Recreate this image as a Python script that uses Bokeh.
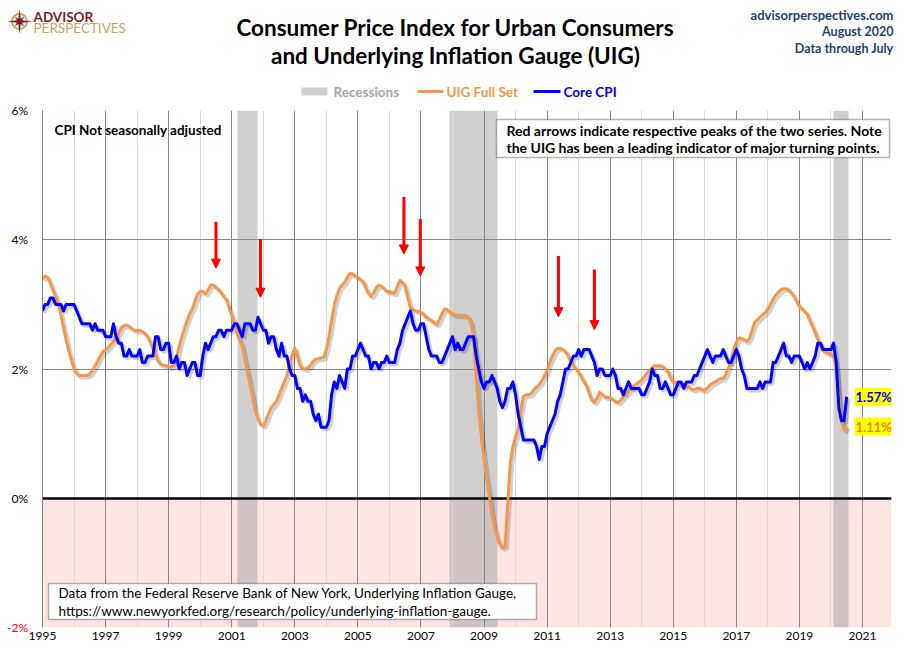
import numpy as np
from bokeh.plotting import figure
from bokeh.layouts import column, row
from bokeh.models import (Range1d, FixedTicker, Label, BoxAnnotation, Arrow, NormalHead)
from bokeh.embed import file_html
from bokeh.resources import INLINE

# ---------------- data ----------------
start_year = 1995  # monthly data, Jan 1995 .. Jul 2020
uig_full_set = [
    3.39, 3.44, 3.42, 3.32, 3.22, 3.12, 3.02, 2.84, 2.64, 2.45, 2.28, 2.13,   # 1995
    2.00, 1.93, 1.90, 1.90, 1.90, 1.90, 1.92, 1.98, 2.05, 2.12, 2.20, 2.27,   # 1996
    2.30, 2.33, 2.38, 2.42, 2.48, 2.55, 2.64, 2.67, 2.68, 2.66, 2.62, 2.60,   # 1997
    2.59, 2.60, 2.58, 2.55, 2.50, 2.42, 2.32, 2.22, 2.12, 2.07, 2.06, 2.05,   # 1998
    2.04, 2.03, 2.06, 2.18, 2.35, 2.50, 2.62, 2.75, 2.86, 2.93, 3.05, 3.15,   # 1999
    3.20, 3.20, 3.16, 3.22, 3.30, 3.30, 3.26, 3.23, 3.18, 3.12, 3.07, 2.95,   # 2000
    2.83, 2.70, 2.56, 2.45, 2.35, 2.15, 1.95, 1.75, 1.55, 1.35, 1.22, 1.14,   # 2001
    1.12, 1.20, 1.31, 1.40, 1.45, 1.50, 1.60, 1.70, 1.80, 1.90, 2.08, 2.22,   # 2002
    2.33, 2.20, 2.05, 2.01, 2.00, 2.02, 2.06, 2.12, 2.15, 2.16, 2.17, 2.18,   # 2003
    2.30, 2.50, 2.75, 2.98, 3.13, 3.25, 3.30, 3.34, 3.42, 3.48, 3.47, 3.44,   # 2004
    3.42, 3.38, 3.35, 3.26, 3.17, 3.12, 3.18, 3.26, 3.30, 3.28, 3.24, 3.20,   # 2005
    3.20, 3.18, 3.17, 3.28, 3.37, 3.34, 3.28, 3.10, 2.95, 2.92, 2.90, 2.89,   # 2006
    2.88, 2.85, 2.80, 2.78, 2.75, 2.72, 2.68, 2.76, 2.86, 2.93, 2.92, 2.88,   # 2007
    2.86, 2.84, 2.83, 2.83, 2.83, 2.83, 2.80, 2.72, 2.50, 1.90, 1.35, 0.95,   # 2008
    0.60, 0.30, 0.04, -0.25, -0.45, -0.60, -0.72, -0.77, -0.74, -0.10, 0.55, 0.80,  # 2009
    0.95, 1.07, 1.35, 1.58, 1.60, 1.60, 1.62, 1.68, 1.72, 1.76, 1.82, 1.89,   # 2010
    1.98, 2.10, 2.20, 2.28, 2.32, 2.32, 2.30, 2.27, 2.20, 2.12, 2.05, 2.00,   # 2011
    1.95, 1.88, 1.80, 1.74, 1.62, 1.52, 1.48, 1.55, 1.64, 1.60, 1.57, 1.56,   # 2012
    1.56, 1.53, 1.50, 1.48, 1.52, 1.57, 1.61, 1.65, 1.70, 1.74, 1.77, 1.80,   # 2013
    1.83, 1.88, 1.93, 1.98, 2.02, 2.05, 2.05, 2.05, 2.04, 2.00, 1.96, 1.86,   # 2014
    1.80, 1.79, 1.78, 1.77, 1.76, 1.75, 1.72, 1.69, 1.68, 1.70, 1.70, 1.68,   # 2015
    1.67, 1.71, 1.75, 1.78, 1.80, 1.83, 1.85, 1.85, 1.92, 2.01, 2.15, 2.30,   # 2016
    2.42, 2.48, 2.47, 2.45, 2.43, 2.47, 2.60, 2.72, 2.76, 2.80, 2.84, 2.87,   # 2017
    2.93, 3.00, 3.08, 3.14, 3.19, 3.23, 3.24, 3.24, 3.22, 3.18, 3.12, 3.04,   # 2018
    2.97, 2.93, 2.89, 2.85, 2.75, 2.66, 2.56, 2.46, 2.37, 2.28, 2.26, 2.24,   # 2019
    2.23, 2.20, 2.00, 1.55, 1.20, 1.05, 1.11,                                 # 2020
]
core_cpi = [
    2.9, 3.0, 3.0, 3.1, 3.1, 3.0, 3.0, 3.0, 2.9, 3.0, 3.0, 3.0,   # 1995
    3.0, 2.9, 2.8, 2.7, 2.7, 2.7, 2.7, 2.6, 2.7, 2.6, 2.6, 2.6,   # 1996
    2.5, 2.5, 2.5, 2.7, 2.5, 2.4, 2.4, 2.2, 2.2, 2.3, 2.2, 2.2,   # 1997
    2.2, 2.3, 2.1, 2.1, 2.2, 2.2, 2.2, 2.5, 2.5, 2.3, 2.3, 2.4,   # 1998
    2.4, 2.1, 2.1, 2.2, 2.0, 2.1, 2.1, 1.9, 2.0, 2.1, 2.1, 1.9,   # 1999
    1.9, 2.2, 2.4, 2.3, 2.4, 2.5, 2.5, 2.6, 2.6, 2.5, 2.6, 2.6,   # 2000
    2.6, 2.7, 2.7, 2.6, 2.5, 2.7, 2.7, 2.7, 2.6, 2.6, 2.8, 2.7,   # 2001
    2.6, 2.6, 2.4, 2.5, 2.5, 2.3, 2.2, 2.4, 2.2, 2.2, 2.0, 1.9,   # 2002
    1.9, 1.7, 1.7, 1.5, 1.6, 1.5, 1.5, 1.3, 1.2, 1.3, 1.1, 1.1,   # 2003
    1.1, 1.2, 1.6, 1.8, 1.7, 1.9, 1.8, 1.7, 2.0, 2.0, 2.2, 2.2,   # 2004
    2.3, 2.4, 2.3, 2.2, 2.2, 2.0, 2.1, 2.1, 2.0, 2.1, 2.1, 2.2,   # 2005
    2.1, 2.1, 2.1, 2.3, 2.4, 2.6, 2.7, 2.8, 2.9, 2.7, 2.6, 2.6,   # 2006
    2.7, 2.7, 2.5, 2.3, 2.2, 2.2, 2.2, 2.1, 2.1, 2.2, 2.3, 2.4,   # 2007
    2.5, 2.3, 2.4, 2.3, 2.3, 2.4, 2.5, 2.5, 2.5, 2.2, 2.0, 1.8,   # 2008
    1.7, 1.8, 1.8, 1.9, 1.8, 1.7, 1.5, 1.4, 1.5, 1.7, 1.7, 1.8,   # 2009
    1.6, 1.3, 1.1, 0.9, 0.9, 0.9, 0.9, 0.9, 0.8, 0.6, 0.8, 0.8,   # 2010
    1.0, 1.1, 1.2, 1.3, 1.5, 1.6, 1.8, 2.0, 2.0, 2.1, 2.2, 2.2,   # 2011
    2.3, 2.2, 2.3, 2.3, 2.3, 2.2, 2.1, 1.9, 2.0, 2.0, 1.9, 1.9,   # 2012
    1.9, 2.0, 1.9, 1.7, 1.7, 1.6, 1.7, 1.8, 1.7, 1.7, 1.7, 1.7,   # 2013
    1.6, 1.6, 1.7, 1.8, 2.0, 1.9, 1.9, 1.7, 1.7, 1.8, 1.7, 1.6,   # 2014
    1.6, 1.7, 1.8, 1.8, 1.7, 1.8, 1.8, 1.8, 1.9, 1.9, 2.0, 2.1,   # 2015
    2.2, 2.3, 2.2, 2.1, 2.2, 2.2, 2.2, 2.3, 2.2, 2.1, 2.1, 2.2,   # 2016
    2.3, 2.2, 2.0, 1.9, 1.7, 1.7, 1.7, 1.7, 1.7, 1.8, 1.7, 1.8,   # 2017
    1.8, 1.8, 2.1, 2.1, 2.2, 2.3, 2.4, 2.2, 2.2, 2.1, 2.2, 2.2,   # 2018
    2.2, 2.1, 2.0, 2.1, 2.0, 2.1, 2.2, 2.4, 2.4, 2.3, 2.3, 2.3,   # 2019
    2.3, 2.4, 2.1, 1.4, 1.2, 1.2, 1.57,                           # 2020
]
recession_start = [2001.17, 2007.92, 2020.08]
recession_end = [2001.83, 2009.42, 2020.55]
arrow_dates = [2000.50, 2001.91, 2006.46, 2006.98, 2011.36, 2012.50]
arrow_tops = [4.28, 4.01, 4.66, 4.32, 3.75, 3.54]
arrow_tips = [3.56, 3.11, 3.78, 3.44, 2.81, 2.61]
x_tick_years = list(range(1995, 2022, 2))
x_minor_years = list(range(1996, 2023, 2))
y_ticks = [-2, 0, 2, 4, 6]
y_tick_colors = ["#FF0000", "black", "black", "black", "black"]

t = start_year + np.arange(len(uig_full_set)) / 12.0

FONT = "Lato"
ORANGE = "#F79646"
BLUE = "#0000FF"
NAVY = "#1F3F6E"
DARKGRID = "#868686"

# ---------------- layout constants (page pixels) ----------------
W, H = 895, 646
HEAD_H = 100            # header strip height
STRIP_W = 28            # left strip holding the y tick labels
FL, FR, FT, FB = 42.0, 891.0, 110.0, 627.0   # main plot frame on the page
X0, X1 = 1995.0, 2021.92
Y0, Y1 = -2.0, 6.0
PPU = (FB - FT) / (Y1 - Y0)


def X(px):
    return X0 + (px - FL) * (X1 - X0) / (FR - FL)


def Y(py):
    return Y1 - (py - FT) / PPU


def no_align(fig):
    try:
        fig.frame_align = False
    except Exception:
        pass


# ---------------- header (title, logo, legend) ----------------
h = figure(width=W, height=HEAD_H, x_range=Range1d(0, W), y_range=Range1d(HEAD_H, 0),
           x_axis_type=None, y_axis_type=None, output_backend="svg", toolbar_location=None,
           min_border=0)
h.outline_line_color = None
h.title.visible = False
no_align(h)


def hlab(px, py, text, size="12px", color="black", bold=False, align="left"):
    h.add_layout(Label(x=px, y=py, text=text, text_font=FONT, text_font_size=size,
                       text_color=color, text_font_style="bold" if bold else "normal",
                       text_align=align, text_baseline="middle"))


hlab(455, 27, "Consumer Price Index for Urban Consumers", size="22.5px", bold=True, align="center")
hlab(455, 55, "and Underlying Inflation Gauge (UIG)", size="22.5px", bold=True, align="center")
hlab(893, 14, "advisorperspectives.com", size="13px", color=NAVY, bold=True, align="right")
hlab(893, 31, "August 2020", size="12.5px", color=NAVY, bold=True, align="right")
hlab(893, 48, "Data through July", size="12.5px", color=NAVY, bold=True, align="right")

# logo: compass star with ring
cx, cy = 19.0, 21.0
h.scatter([cx], [cy], marker="circle", size=15, fill_color=None, line_color="#C9A45C", line_width=1.8)
star_r = [11 if k % 4 == 0 else (6 if k % 4 == 2 else 2.4) for k in range(16)]
star_a = [k * np.pi / 8 for k in range(16)]
h.patch([cx + r * np.sin(a) for r, a in zip(star_r, star_a)],
        [cy - r * np.cos(a) for r, a in zip(star_r, star_a)],
        fill_color="#7B1C24", line_color="#7B1C24", line_width=0.5)
hlab(33, 16, "ADVISOR", size="13.5px", color="#7B1C24", bold=True)
hlab(33, 27, "PERSPECTIVES", size="13.5px", color="#C9A45C")

# legend
h.add_layout(BoxAnnotation(left=301, right=327, top=87, bottom=95,
                           fill_color="#D0D0D0", fill_alpha=1, line_color=None))
hlab(333, 91, "Recessions", size="13.5px", color="#A6A6A6", bold=True)
h.add_layout(BoxAnnotation(left=417, right=443, top=89.5, bottom=92.5,
                           fill_color=ORANGE, fill_alpha=1, line_color=None))
hlab(446, 91, "UIG Full Set", size="13.5px", color=ORANGE, bold=True)
h.add_layout(BoxAnnotation(left=533, right=560, top=89.5, bottom=92.5,
                           fill_color=BLUE, fill_alpha=1, line_color=None))
hlab(563, 91, "Core CPI", size="13.5px", color=BLUE, bold=True)

# ---------------- left strip with the y tick labels (shares the main y scale) ----------------
MAIN_H = H - HEAD_H
strip = figure(width=STRIP_W, height=MAIN_H, x_range=Range1d(0, STRIP_W),
               y_range=Range1d(Y(HEAD_H + MAIN_H), Y(HEAD_H)),
               x_axis_type=None, y_axis_type=None, output_backend="svg", toolbar_location=None,
               min_border=0)
strip.outline_line_color = None
strip.title.visible = False
no_align(strip)
for v, col in zip(y_ticks, y_tick_colors):
    strip.add_layout(Label(x=STRIP_W - 0.5, y=v, text=f"{v}%", text_font=FONT, text_font_size="12px",
                           text_color=col, text_align="right", text_baseline="middle"))

# ---------------- main chart ----------------
p = figure(width=W - STRIP_W, height=MAIN_H, x_range=Range1d(X0, X1), y_range=Range1d(Y0, Y1),
           output_backend="svg", toolbar_location=None,
           min_border_left=int(FL - STRIP_W), min_border_right=int(W - FR),
           min_border_top=int(FT - HEAD_H), min_border_bottom=int(H - FB))
p.title.visible = False
p.outline_line_color = None
p.background_fill_color = "white"
p.border_fill_color = "white"
no_align(p)

p.xaxis.ticker = FixedTicker(ticks=x_tick_years, minor_ticks=x_minor_years)
p.xaxis.axis_line_color = None
p.xaxis.major_tick_line_color = None
p.xaxis.minor_tick_line_color = None
p.xaxis.major_tick_out = 0
p.xaxis.minor_tick_out = 0
p.xaxis.major_label_standoff = 4
p.xaxis.major_label_text_font = FONT
p.xaxis.major_label_text_font_size = "12px"
p.xaxis.major_label_text_color = "black"

# y axis: only the grey left border line here; its tick labels sit in the strip
p.yaxis.ticker = FixedTicker(ticks=[])
p.yaxis.axis_line_color = DARKGRID
p.yaxis.major_tick_line_color = None
p.yaxis.minor_tick_line_color = None
p.yaxis.major_tick_out = 0
p.yaxis.minor_tick_out = 0
p.yaxis.major_label_standoff = 0

p.xgrid.grid_line_color = DARKGRID
p.xgrid.minor_grid_line_color = "#D9D9D9"
p.ygrid.ticker = FixedTicker(ticks=[v for v in y_ticks if v >= 0])
p.ygrid.grid_line_color = DARKGRID

# background bands
p.hstrip(y0=[Y0], y1=[0], fill_color="#FFE4E4", line_color=None, level="image")
p.vstrip(x0=recession_start, x1=recession_end, fill_color="#A0A0A0", fill_alpha=0.5,
         line_color=None, level="image")

# zero line
p.hspan(y=[0], line_color="black", line_width=2.5)

# series with soft shadows
tt = np.array(t)
u = np.array(uig_full_set)
c = np.array(core_cpi)
p.line(tt + 0.07, u - 0.035, line_color="#000000", line_alpha=0.18, line_width=3.5)
p.line(tt + 0.07, c - 0.035, line_color="#000000", line_alpha=0.18, line_width=3.5)
p.line(tt, u, line_color=ORANGE, line_width=3, line_join="round")
p.line(tt, c, line_color=BLUE, line_width=3, line_join="round")

# arrows
for xa, ya, yb in zip(arrow_dates, arrow_tops, arrow_tips):
    p.add_layout(Arrow(x_start=xa, y_start=ya, x_end=xa, y_end=yb,
                       line_color="#FF0000", line_width=3,
                       end=NormalHead(size=9, fill_color="#FF0000", line_color="#FF0000")))


def lab(px, py, text, size="12px", color="black", bold=False, align="left"):
    p.add_layout(Label(x=X(px), y=Y(py), text=text, text_font=FONT, text_font_size=size,
                       text_color=color, text_font_style="bold" if bold else "normal",
                       text_align=align, text_baseline="middle"))


lab(54, 129, "CPI Not seasonally adjusted", size="13.5px", bold=True)
p.add_layout(BoxAnnotation(left=X(496), right=X(889), top=Y(119), bottom=Y(157),
                           fill_color="white", fill_alpha=1, line_color="black", line_width=1.5))
lab(506, 130, "Red arrows indicate respective peaks of the two series. Note", size="14px", bold=True)
lab(506, 147, "the UIG has been a leading indicator of major turning points.", size="14px", bold=True)
p.add_layout(BoxAnnotation(left=X(48), right=X(536), top=Y(583), bottom=Y(619),
                           fill_color="white", fill_alpha=1, line_color="black", line_width=1.5))
lab(58, 592, "Data from the Federal Reserve Bank of New York, Underlying Inflation Gauge,", size="13.5px")
lab(58, 610, "https://www.newyorkfed.org/research/policy/underlying-inflation-gauge.", size="13.5px")

# end-value labels
p.add_layout(Label(x=X(854), y=core_cpi[-1], text=f"{core_cpi[-1]:.2f}%", text_font=FONT,
                   text_font_size="13px", text_font_style="bold", text_color=BLUE,
                   text_baseline="middle", background_fill_color="#FFFF00", padding=1))
p.add_layout(Label(x=X(854), y=uig_full_set[-1], text=f"{uig_full_set[-1]:.2f}%", text_font=FONT,
                   text_font_size="13px", text_font_style="bold", text_color="#F07F10",
                   text_baseline="middle", background_fill_color="#FFFF00", padding=1))

layout = column(h, row(strip, p, spacing=0), spacing=0)
open("out.html", "w").write(file_html(layout, INLINE))
